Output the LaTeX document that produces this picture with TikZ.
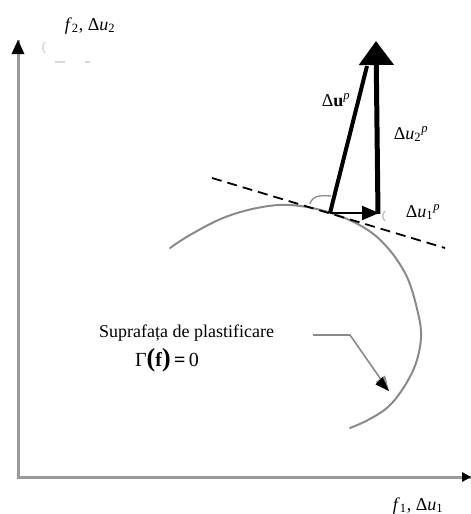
\documentclass[tikz,border=0pt]{standalone}
\usepackage{fontspec}
\setmainfont{Liberation Serif}
\usetikzlibrary{arrows.meta}
\definecolor{axisgray}{HTML}{9A9A9A}
\definecolor{curvegray}{HTML}{8A8A8A}
\definecolor{faint}{HTML}{D8D8D8}
\begin{document}
\begin{tikzpicture}[x=1pt,y=-1pt,
  lbl/.style={font=\fontsize{18}{21}\selectfont, inner sep=0pt},
  axisline/.style={draw=axisgray, line width=3pt},
  surf/.style={draw=curvegray, line width=2pt, line cap=round},
  vec/.style={draw=black}
]
\useasboundingbox (0,0) rectangle (471,514);
% coordinates
\coordinate (Org) at (18,477);
\coordinate (Ytop) at (18,40);
\coordinate (Xend) at (471,477);
\coordinate (P) at (330,213);
\coordinate (Pv) at (378,214);
\coordinate (Tip) at (376,41);
\coordinate (Sl) at (367,66);
\coordinate (H) at (379,213);
\coordinate (Ta) at (212,178);
\coordinate (Tb) at (445,248);
\coordinate (Pa) at (313,335);
\coordinate (Pb) at (350,335);
\coordinate (Pc) at (389,391);

% axes
\draw[axisline] (Ytop) -- (Org) -- (Xend);
\fill[black] (Ytop) -- ++(-6.5,14) -- ++(13,0) -- cycle;
\fill[black] (Xend) -- ++(-9,-5) -- ++(0,10) -- cycle;

% faint artifacts
\draw[faint, line width=1.5pt] (45,42) .. controls (42,45) and (42,50) .. (45,53);
\draw[faint, line width=1.2pt] (55,62) -- (65,62);
\draw[faint, line width=1.2pt] (85,62) -- (90,62);

% yield surface
\draw[surf] plot[smooth, tension=0.6] coordinates {(170,248) (190,235) (223,218) (257,208) (290,205) (328,212) (363,227) (387,247) (407,277) (418,313) (421,337) (416,363) (404,387) (388,407) (368,420) (350,428)};

% tangent
\draw[black, line width=1.8pt, dash pattern=on 10pt off 6pt] (Ta) -- (Tb);

% angle marks
\draw[curvegray, line width=1.3pt] (310,204) .. controls (312,196) and (320,195) .. (331,196);
\draw[faint!70!gray, line width=1.3pt] (385,211) .. controls (382,214) and (382,218) .. (385,221);

% vectors
\draw[vec, line width=4pt] (P) -- (Sl);
\draw[vec, line width=2.2pt, -{Triangle[length=17pt,width=14pt]}] (P) -- (H);
\draw[vec, line width=5pt, -{Triangle[length=24pt,width=34pt]}] (Pv) -- (Tip);

% pointer
\draw[curvegray, line width=1.6pt, -{Triangle[length=15pt,width=11pt]}] (Pa) -- (Pb) -- (Pc);
\fill[black] (Pc) -- ++(-13.5,-6.5) -- ++(7,-7.5) -- cycle;

% labels
\node[lbl, anchor=base] (ly) at (90,30) {\textit{f}\textsubscript{2}, Δ\textit{u}\textsubscript{2}};
\node[lbl, anchor=base] (lx) at (418,510) {\textit{f}\textsubscript{1}, Δ\textit{u}\textsubscript{1}};
\node[lbl, anchor=base] (lup) at (336,106) {Δ\textbf{u}\textsuperscript{\textit{p}}};
\node[lbl, anchor=base] (lu2) at (411,139) {Δ\textit{u}\textsubscript{2}\textsuperscript{\textit{p}}};
\node[lbl, anchor=base] (lu1) at (423,217) {Δ\textit{u}\textsubscript{1}\textsuperscript{\textit{p}}};
\node[lbl, anchor=base west] (ls) at (99,337) {Suprafața de plastificare};
\node[lbl, anchor=base, font=\fontsize{20}{22}\selectfont] (lg) at (167,366) {Γ{\fontsize{26}{26}\selectfont\bfseries(}\textbf{f}{\fontsize{26}{26}\selectfont\bfseries)}\,\textbf{=}\,0};
\end{tikzpicture}
\end{document}
